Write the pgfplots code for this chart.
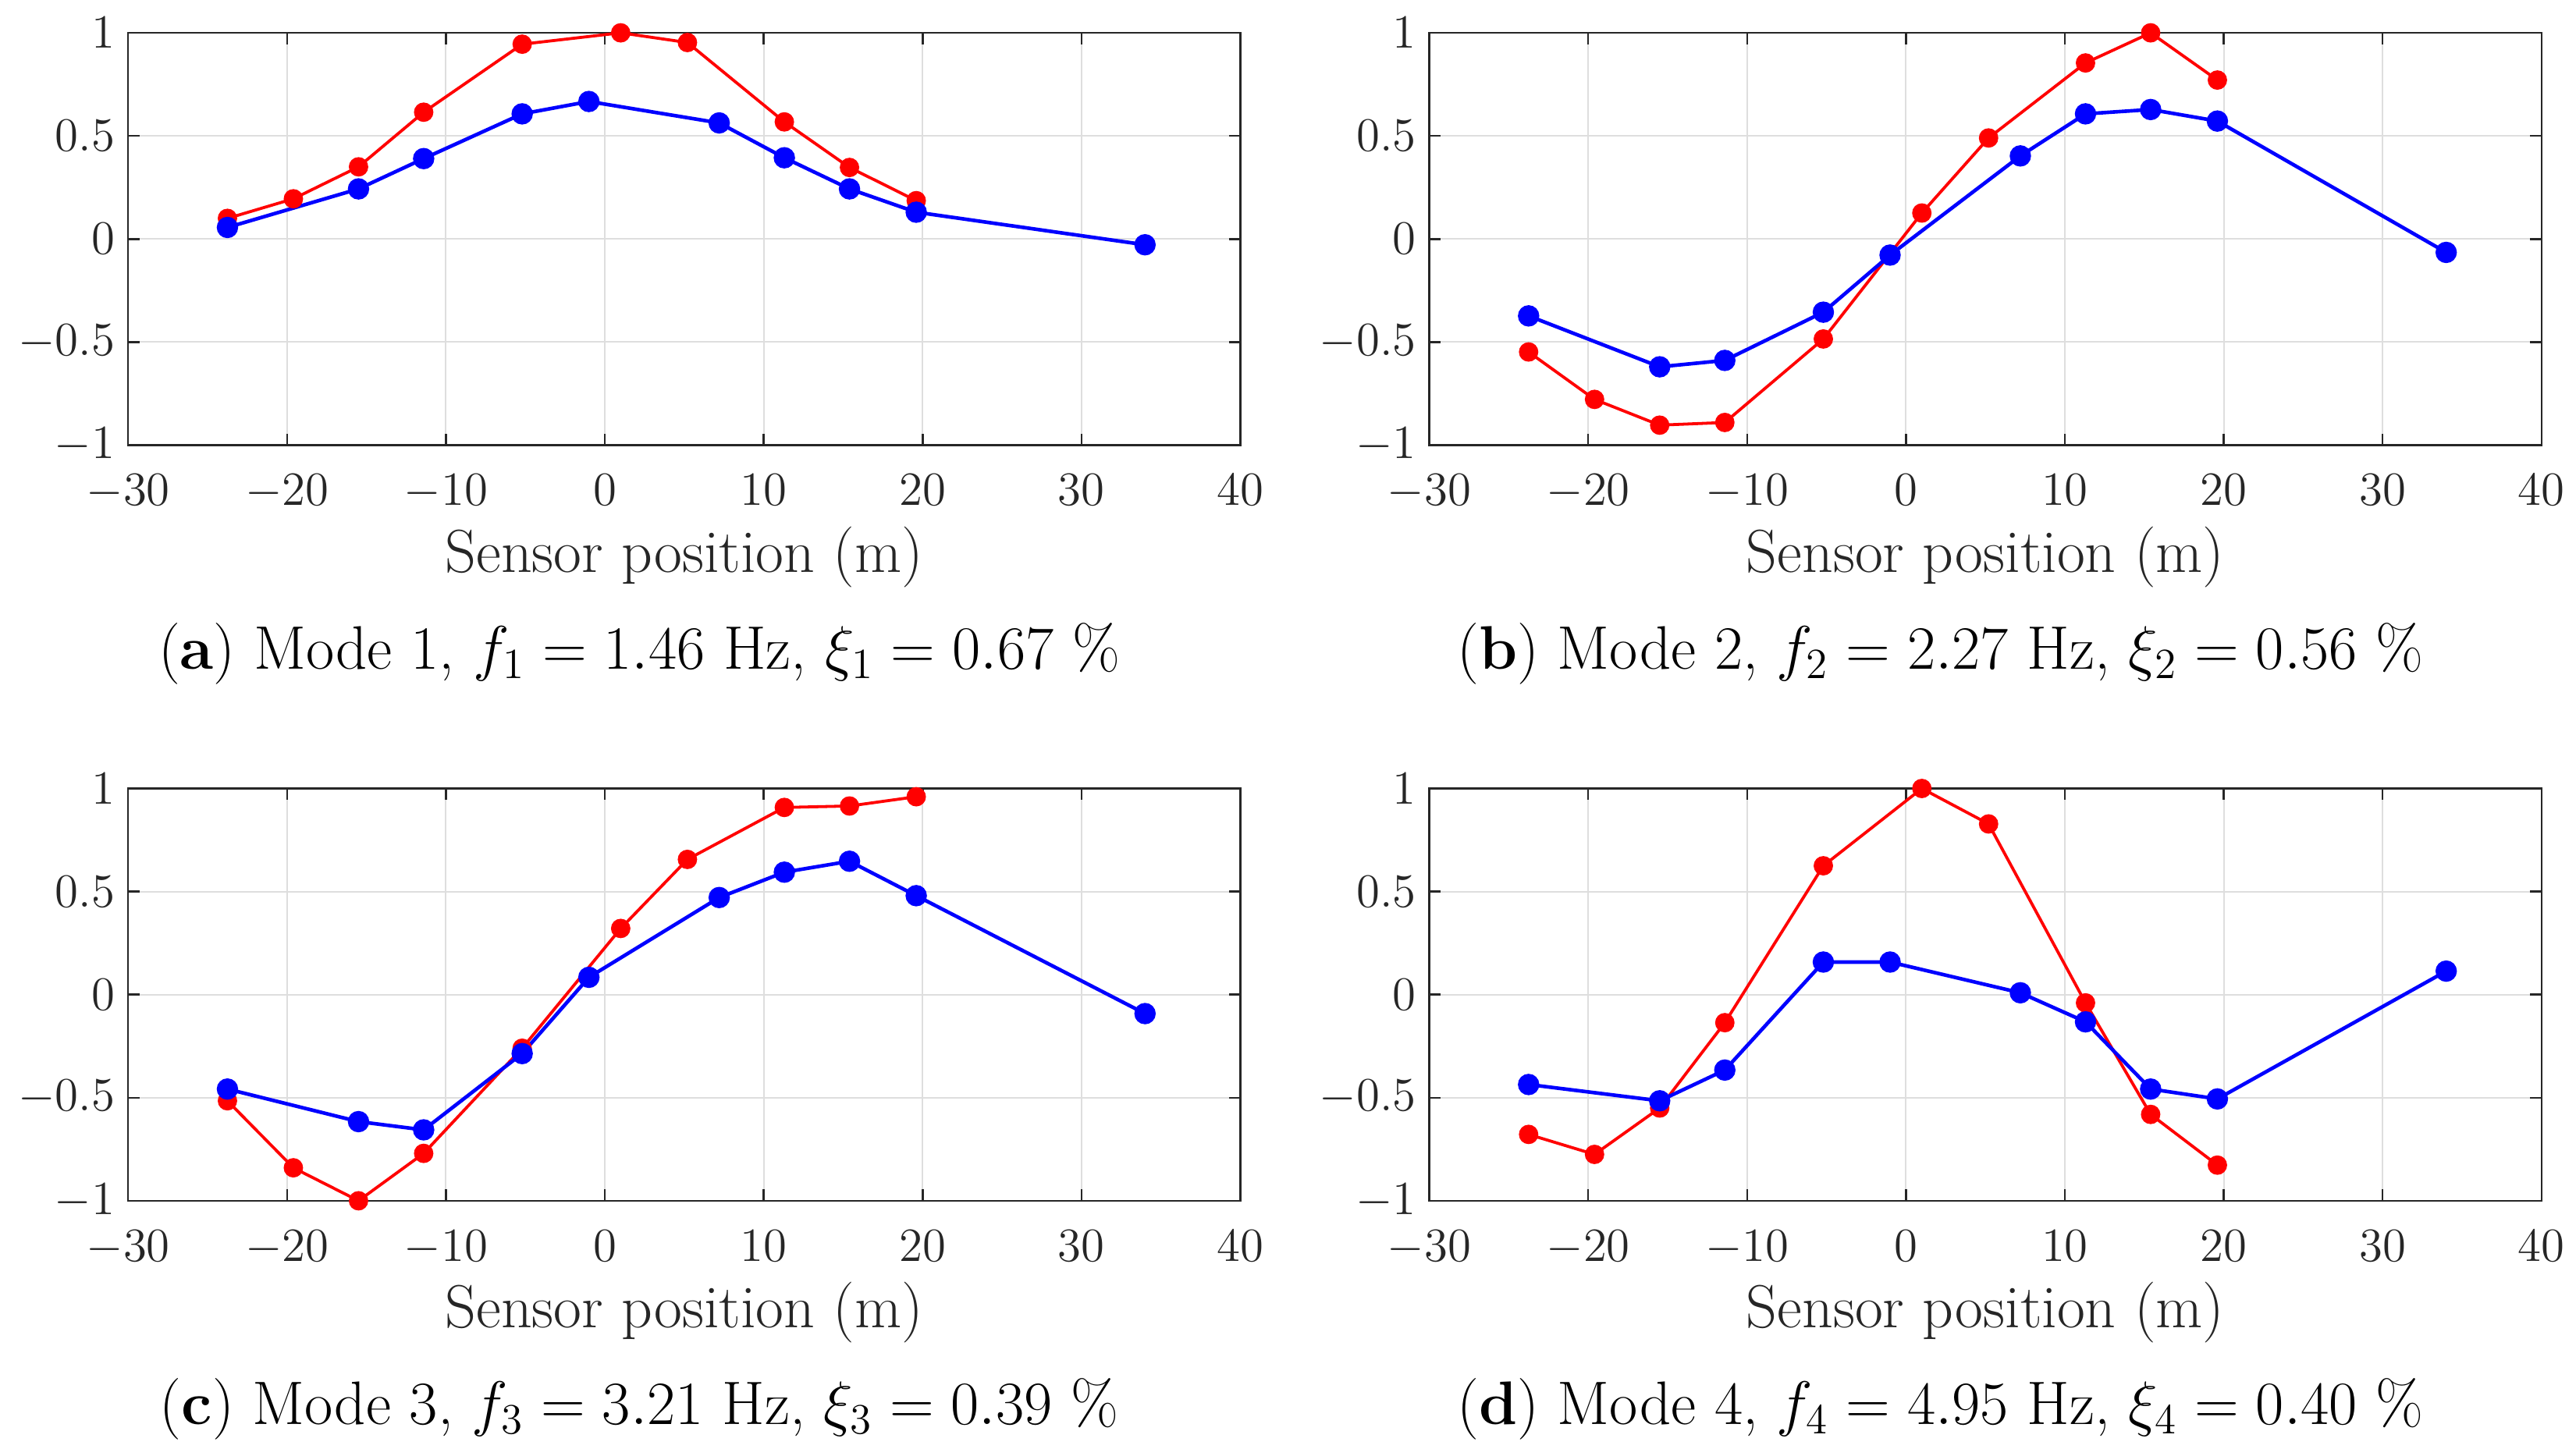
\RequirePackage{fix-cm}
\documentclass[border=0pt]{standalone}
\usepackage{pgfplots}
\pgfplotsset{compat=1.18}
\definecolor{axc}{rgb}{0.15,0.15,0.15}
\definecolor{gridc}{rgb}{0.87,0.87,0.87}
\pgfplotsset{
  modestyle/.style={
    scale only axis, width=338.5pt, height=125.5pt,
    anchor=north west,
    xmin=-30, xmax=40, ymin=-1, ymax=1,
    xtick={-30,-20,...,40}, ytick={-1,-0.5,0,0.5,1},
    grid=major, major grid style={color=gridc, line width=0.5pt},
    axis line style={color=axc, line width=0.6pt},
    tick style={color=axc, line width=0.6pt},
    tick align=inside, tick pos=both, major tick length=3.5pt,
    tick label style={font=\fontsize{14.5}{17}\selectfont, color=axc},
    xticklabel style={yshift=-5.5pt},
    yticklabel style={xshift=-0.5pt},
    xlabel={Sensor position (m)},
    xlabel style={font=\fontsize{18.5}{22}\selectfont, color=axc, at={(axis description cs:0.5,0)}, anchor=center, yshift=-34pt},
    clip=false,
  },
  redl/.style={color=red, line width=0.9pt, mark=*, mark size=2.5pt, mark options={fill=red, draw=red}},
  bluel/.style={color=blue, line width=1.1pt, mark=*, mark size=2.7pt, mark options={fill=blue, draw=blue}},
}
\newcommand{\capfont}{\fontsize{18.7}{22}\selectfont}
\begin{document}
\begin{tikzpicture}
\path[use as bounding box] (0pt,0pt) rectangle (784pt,-443pt);
% (a)
\begin{axis}[modestyle, at={(39pt,-10pt)}]
\addplot[redl] coordinates {(-23.75,0.10) (-19.6,0.195) (-15.5,0.35) (-11.4,0.615) (-5.2,0.945) (1.0,1.0) (5.2,0.953) (11.3,0.568) (15.4,0.347) (19.6,0.186)};
\addplot[bluel] coordinates {(-23.75,0.056) (-15.5,0.243) (-11.4,0.39) (-5.2,0.607) (-1.0,0.667) (7.2,0.563) (11.3,0.394) (15.4,0.243) (19.6,0.13) (34.0,-0.028)};
\node[font=\capfont, anchor=center] at ([xshift=-13.75pt, yshift=-63.5pt]axis description cs:0.5,0) {(\textbf{a}) Mode 1, $f_1 = 1.46$ Hz, $\xi_1 = 0.67$ \%};
\end{axis}
% (b)
\begin{axis}[modestyle, at={(435pt,-10pt)}]
\addplot[redl] coordinates {(-23.75,-0.548) (-19.6,-0.778) (-15.5,-0.903) (-11.4,-0.89) (-5.2,-0.485) (1.0,0.126) (5.2,0.49) (11.3,0.854) (15.4,1.0) (19.6,0.771)};
\addplot[bluel] coordinates {(-23.75,-0.373) (-15.5,-0.62) (-11.4,-0.589) (-5.2,-0.355) (-1.0,-0.078) (7.2,0.403) (11.3,0.607) (15.4,0.628) (19.6,0.572) (34.0,-0.065)};
\node[font=\capfont, anchor=center] at ([xshift=-13.75pt, yshift=-63.5pt]axis description cs:0.5,0) {(\textbf{b}) Mode 2, $f_2 = 2.27$ Hz, $\xi_2 = 0.56$ \%};
\end{axis}
% (c)
\begin{axis}[modestyle, at={(39pt,-240pt)}]
\addplot[redl] coordinates {(-23.75,-0.515) (-19.6,-0.84) (-15.5,-1.0) (-11.4,-0.77) (-5.2,-0.26) (1.0,0.321) (5.2,0.656) (11.3,0.908) (15.4,0.915) (19.6,0.96)};
\addplot[bluel] coordinates {(-23.75,-0.458) (-15.5,-0.616) (-11.4,-0.656) (-5.2,-0.286) (-1.0,0.084) (7.2,0.471) (11.3,0.594) (15.4,0.647) (19.6,0.48) (34.0,-0.092)};
\node[font=\capfont, anchor=center] at ([xshift=-13.75pt, yshift=-63.5pt]axis description cs:0.5,0) {(\textbf{c}) Mode 3, $f_3 = 3.21$ Hz, $\xi_3 = 0.39$ \%};
\end{axis}
% (d)
\begin{axis}[modestyle, at={(435pt,-240pt)}]
\addplot[redl] coordinates {(-23.75,-0.678) (-19.6,-0.775) (-15.5,-0.55) (-11.4,-0.136) (-5.2,0.625) (1.0,1.0) (5.2,0.828) (11.3,-0.04) (15.4,-0.581) (19.6,-0.827)};
\addplot[bluel] coordinates {(-23.75,-0.436) (-15.5,-0.515) (-11.4,-0.366) (-5.2,0.158) (-1.0,0.158) (7.2,0.009) (11.3,-0.132) (15.4,-0.458) (19.6,-0.506) (34.0,0.114)};
\node[font=\capfont, anchor=center] at ([xshift=-13.75pt, yshift=-63.5pt]axis description cs:0.5,0) {(\textbf{d}) Mode 4, $f_4 = 4.95$ Hz, $\xi_4 = 0.40$ \%};
\end{axis}
\end{tikzpicture}
\end{document}
